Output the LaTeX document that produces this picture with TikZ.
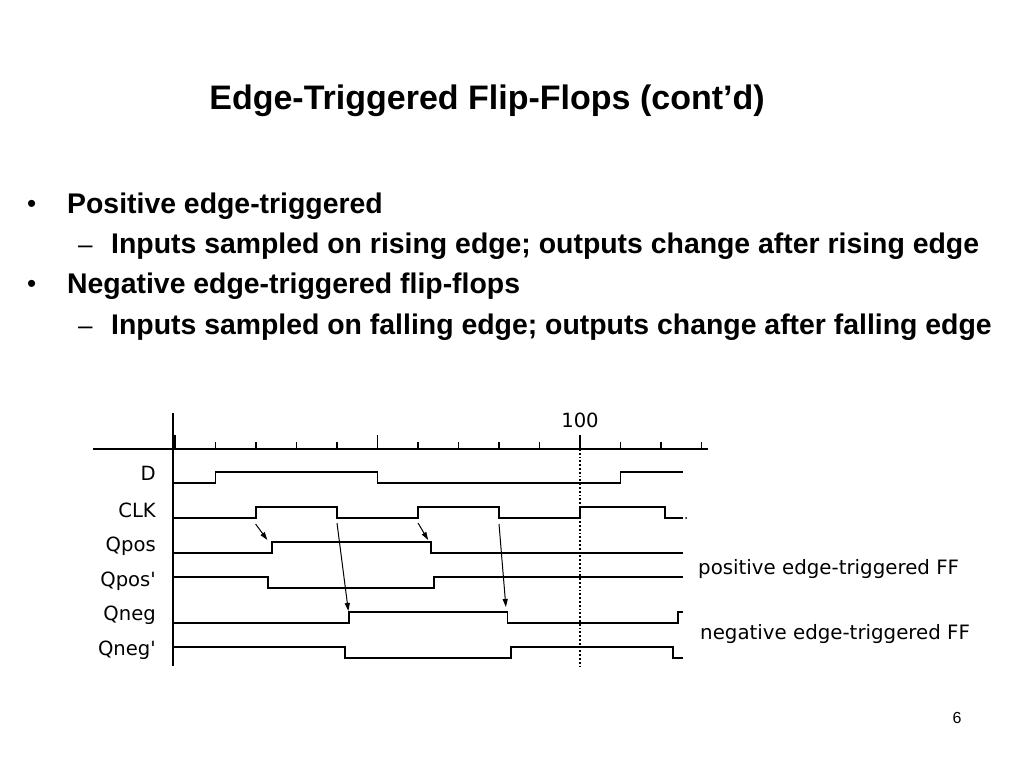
\documentclass[tikz,border=0pt]{standalone}
\usepackage{fontspec}
\setmainfont{Liberation Sans}
\newfontfamily\wavefont{DejaVu Sans}
\usetikzlibrary{arrows.meta}

\begin{document}
\begin{tikzpicture}[x=1pt,y=-1pt,
    sig/.style={line width=1.9pt},
    axis/.style={line width=1.9pt},
    tick/.style={line width=1.5pt},
    trig/.style={line width=1pt,-{Triangle[length=8pt,width=5pt]}},
    siglabel/.style={anchor=base east,inner sep=0pt,font=\wavefont\fontsize{19.6}{22}\selectfont},
    note/.style={anchor=base west,inner sep=0pt,font=\wavefont\fontsize{19.8}{22}\selectfont},
    bullet/.style={anchor=base west,inner sep=0pt,font=\bfseries\fontsize{28.4}{32}\selectfont},
    bulletmark/.style={anchor=base west,inner sep=0pt,font=\fontsize{26}{30}\selectfont}]
  \useasboundingbox (0,0) rectangle (1024,768);

  % title and bullets
  \node[inner sep=0pt,anchor=base,font=\bfseries\fontsize{34}{40}\selectfont] (title) at (487,109) {Edge-Triggered Flip-Flops (cont’d)};
  \node[bulletmark] (b1) at (27,212) {•};
  \node[bullet] (t1) at (67,213) {Positive edge-triggered};
  \node[bulletmark] (d1) at (78,253) {–};
  \node[bullet] (t2) at (111,253) {Inputs sampled on rising edge; outputs change after rising edge};
  \node[bulletmark] (b2) at (27,292) {•};
  \node[bullet] (t3) at (67,293) {Negative edge-triggered flip-flops};
  \node[bulletmark] (d2) at (78,334) {–};
  \node[bullet] (t4) at (111,334) {Inputs sampled on falling edge; outputs change after falling edge};

  % axes
  \draw[axis] (93,449) -- (708,449);
  \draw[axis] (173,413) -- (173,666);
  \foreach \k in {0,...,13}
    \draw[tick] (175+40.5*\k,442) -- (175+40.5*\k,449);
  \foreach \k in {0,5,10}
    \draw[tick] (175+40.5*\k,435) -- (175+40.5*\k,449);
  \draw[line width=3pt] (174,435) -- (174,449);
  \node[inner sep=0pt,font=\wavefont\fontsize{19.6}{22}\selectfont] (hundred) at (580,420) {100};
  \draw[line width=1.8pt,dotted] (580,449) -- (580,666);

  % signal names
  \node[siglabel] (lblD) at (156,480) {D};
  \node[siglabel] (lblCLK) at (156,517) {CLK};
  \node[siglabel] (lblQpos) at (156,551) {Qpos};
  \node[siglabel] (lblQposn) at (156,586) {Qpos'};
  \node[siglabel] (lblQneg) at (156,620) {Qneg};
  \node[siglabel] (lblQnegn) at (156,655) {Qneg'};

  % waveforms, time in ticks
  \begin{scope}[xshift=175pt,x=40.5pt]
    \draw[sig] (-0.05,483) -- (1,483) -- (1,472) -- (5,472) -- (5,483) -- (11,483) -- (11,472) -- (12.54,472);
    \draw[sig] (-0.05,518) -- (2,518) -- (2,507) -- (4,507) -- (4,518) -- (6,518) -- (6,507) -- (8,507) -- (8,518)
      -- (10,518) -- (10,507) -- (12.1,507) -- (12.1,518) -- (12.54,518);
    \fill (12.62,518) circle (0.9pt);
    \draw[sig] (-0.05,553) -- (2.4,553) -- (2.4,542) -- (6.31,542) -- (6.31,553) -- (12.54,553);
    \draw[sig] (-0.05,577) -- (2.3,577) -- (2.3,588) -- (6.4,588) -- (6.4,577) -- (12.54,577);
    \draw[sig] (-0.05,623) -- (4.3,623) -- (4.3,612) -- (8.21,612) -- (8.21,623) -- (12.41,623) -- (12.41,612) -- (12.54,612);
    \draw[sig] (-0.05,647) -- (4.2,647) -- (4.2,658) -- (8.29,658) -- (8.29,647) -- (12.3,647) -- (12.3,658) -- (12.54,658);

    % clock edge to output
    \coordinate (r1) at (1.99,524);
    \coordinate (q1) at (2.28,540);
    \coordinate (f1) at (4.0,523);
    \coordinate (n1) at (4.28,611);
    \coordinate (r2) at (6.0,523);
    \coordinate (q2) at (6.25,540);
    \coordinate (f2) at (8.0,524);
    \coordinate (n2) at (8.17,607);
  \end{scope}
  \draw[trig] (r1) -- (q1);
  \draw[trig] (f1) -- (n1);
  \draw[trig] (r2) -- (q2);
  \draw[trig] (f2) -- (n2);

  \node[note] (posnote) at (698,574) {positive edge-triggered FF};
  \node[note] (negnote) at (700,639) {negative edge-triggered FF};

  \node[inner sep=0pt,anchor=base,font=\fontsize{16}{19}\selectfont] (pagenum) at (957,723) {6};
\end{tikzpicture}
\end{document}
